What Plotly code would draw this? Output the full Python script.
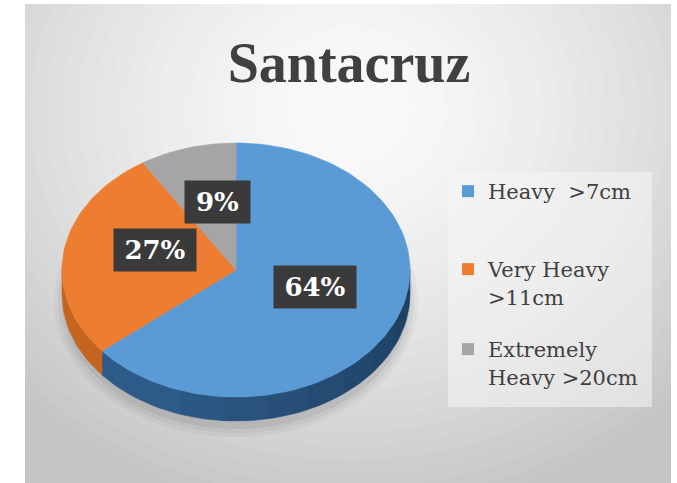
import math
import plotly.graph_objects as go

# ---- data ----
title_text = "Santacruz"
categories = ["Heavy  >7cm", "Very Heavy<br>>11cm", "Extremely<br>Heavy >20cm"]
values = [64, 27, 9]

# ---- style ----
top_colors = ["#5b9bd5", "#ed7d31", "#a5a5a5"]
side_colors = ["#2d5b89", "#c4651f", "#7a7a7a"]
W, H = 677, 483
X0, X1, Y0, Y1 = 25, 671, 4, 483          # chart frame (pixels)
cx, cy, rx, ry, depth = 236, 270, 174, 127, 24
label_f = 0.5
label_nudge = [(0, -10), (5, -10), (6, -7)]
serif = "DejaVu Serif"

fig = go.Figure()

def pt(theta_deg, f=1.0, dy=0.0):
    t = math.radians(theta_deg)
    return cx + rx * f * math.sin(t), cy - ry * f * math.cos(t) + dy

def wall(s0, s1):
    n = max(8, int((s1 - s0) / 2))
    th = [s0 + (s1 - s0) * j / n for j in range(n + 1)]
    xs = [pt(t)[0] for t in th] + [pt(t, dy=depth)[0] for t in reversed(th)]
    ys = [pt(t)[1] for t in th] + [pt(t, dy=depth)[1] for t in reversed(th)]
    return xs + [xs[0]], ys + [ys[0]]

total = sum(values)
bounds = []
acc = 0.0
for v in values:
    a0 = acc / total * 360.0
    acc += v
    a1 = acc / total * 360.0
    bounds.append((a0, a1))

# ---- side walls (front half only, 90..270 deg) ----
for i, (a0, a1) in enumerate(bounds):
    s0, s1 = max(a0, 90.0), min(a1, 270.0)
    if s1 <= s0:
        continue
    xs, ys = wall(s0, s1)
    col = side_colors[i]
    fig.add_trace(go.Scatter(x=xs, y=ys, mode="lines", fill="toself",
                             fillcolor=col, line=dict(color=col, width=0.6),
                             hoverinfo="skip", showlegend=False))
    # gradual darkening toward the right-hand side of the wall
    for end in range(100, 200, 14):
        e = min(float(end), s1)
        if e <= s0:
            continue
        xs2, ys2 = wall(s0, e)
        fig.add_trace(go.Scatter(x=xs2, y=ys2, mode="lines", fill="toself",
                                 fillcolor="rgba(0,0,0,0.04)", line=dict(width=0),
                                 hoverinfo="skip", showlegend=False))

# ---- top faces ----
for i, (a0, a1) in enumerate(bounds):
    n = max(8, int((a1 - a0) / 2))
    thetas = [a0 + (a1 - a0) * j / n for j in range(n + 1)]
    xs = [cx] + [pt(t)[0] for t in thetas] + [cx]
    ys = [cy] + [pt(t)[1] for t in thetas] + [cy]
    fig.add_trace(go.Scatter(x=xs, y=ys, mode="lines", fill="toself",
                             fillcolor=top_colors[i], line=dict(color=top_colors[i], width=0.6),
                             hoverinfo="skip", showlegend=False))

# ---- legend entries (one legend per item for Excel-like spacing) ----
legend_tops = [171, 249, 329]
legend_names = ["legend", "legend2", "legend3"]
for i, name in enumerate(categories):
    fig.add_trace(go.Scatter(x=[None], y=[None], mode="markers", name=name,
                             marker=dict(symbol="square", size=13, color=top_colors[i]),
                             legend=legend_names[i], showlegend=True))

legend_style = dict(x=448 / W, xanchor="left", yanchor="top", bgcolor="rgba(0,0,0,0)",
                    font=dict(family=serif, size=21, color="#404040"), valign="top",
                    itemsizing="constant", borderwidth=0)
layout_legends = {}
for i, ln in enumerate(legend_names):
    layout_legends[ln] = dict(legend_style, y=1 - legend_tops[i] / H)

# ---- percentage labels ----
annotations = []
for i, (a0, a1) in enumerate(bounds):
    mx, my = pt((a0 + a1) / 2, f=label_f)
    pct = f"{round(values[i] / total * 100)}%"
    annotations.append(dict(x=mx + label_nudge[i][0], y=my + label_nudge[i][1], xref="x", yref="y",
                            text=f"<b>{pct}</b>", showarrow=False,
                            font=dict(family=serif, size=26, color="white"),
                            width=17 * len(pct) + 19, height=30,
                            bgcolor="#3a3a3a", borderpad=6))

# ---- background gradient & decorations (shapes) ----
shapes = []
gcx, gcy, grx, gry = 350, 110, 480, 420
N = 36
for k in range(N):
    r = 1.2 * (1 - k / N)
    t = min(1.0, r) ** 1.5
    c = int(251 - (251 - 196) * t)
    shapes.append(dict(type="circle", xref="x", yref="y", layer="below",
                       x0=gcx - grx * r, x1=gcx + grx * r, y0=gcy - gry * r, y1=gcy + gry * r,
                       fillcolor=f"rgb({c},{c},{c})", line=dict(width=0)))
# soft shadow under the pie
for grow, op in [(12, 0.035), (8, 0.045), (4, 0.06)]:
    shapes.append(dict(type="circle", xref="x", yref="y", layer="below",
                       x0=cx - rx - grow + 4, x1=cx + rx + grow - 4,
                       y0=cy - ry + depth - grow + 10, y1=cy + ry + depth + grow + 4,
                       fillcolor=f"rgba(0,0,0,{op})", line=dict(width=0)))
# legend box
shapes.append(dict(type="rect", xref="x", yref="y", layer="below",
                   x0=448, x1=652, y0=172, y1=407,
                   fillcolor="rgba(245,245,245,0.55)", line=dict(width=0)))

fig.update_layout(
    width=W, height=H, margin=dict(l=0, r=0, t=0, b=0),
    paper_bgcolor="white", plot_bgcolor="rgba(0,0,0,0)",
    xaxis=dict(range=[X0, X1], domain=[X0 / W, X1 / W], visible=False, fixedrange=True),
    yaxis=dict(range=[Y1, Y0], domain=[0, 1 - Y0 / H], visible=False, fixedrange=True),
    title=dict(text=f"<b>{title_text}</b>", x=349 / W, xanchor="center", y=1 - 62 / H,
               yanchor="middle", font=dict(family="Liberation Serif", size=56, color="#404040")),
    annotations=annotations, shapes=shapes,
    **layout_legends,
)

fig.write_html("out.html", config={"displayModeBar": False},
               post_script="document.body.style.margin='0';document.body.style.overflow='hidden';")
